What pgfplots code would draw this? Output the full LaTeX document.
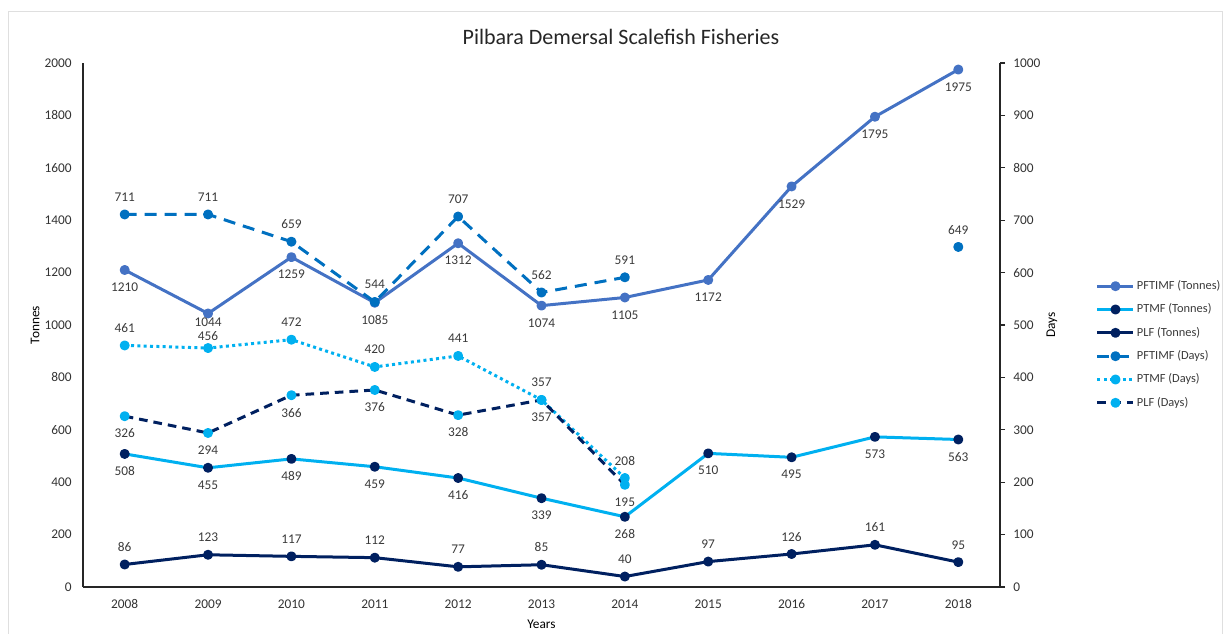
\documentclass[border=0pt]{standalone}
\usepackage{fontspec}
\setmainfont{Carlito}
\usepackage{pgfplots}
\pgfplotsset{compat=1.18}
\definecolor{cA}{HTML}{4472C4}
\definecolor{cB}{HTML}{00B0F0}
\definecolor{cC}{HTML}{002060}
\definecolor{cD}{HTML}{0070C0}
\definecolor{txt}{HTML}{3A3A3A}
\pgfplotsset{
  /pgf/number format/.cd, 1000 sep={}, assume math mode=true, /pgfplots/.cd,
  common/.style={scale only axis, width=687.75pt, height=393pt,
    at={(62.25pt,34.5pt)}, anchor=south west,
    xmin=-0.5, xmax=10.5, clip=false,
    axis line style={-, black!85, line width=0.8pt},
    tick label style={font=\fontsize{10}{12}\selectfont, text=black!80},
    label style={font=\fontsize{10}{12}\selectfont, text=black!80},
    every node near coord/.append style={font=\fontsize{10}{12}\selectfont, text=txt, anchor=center},
  },
  labbelow/.style={nodes near coords, every node near coord/.append style={yshift=-13pt}},
  lababove/.style={nodes near coords, every node near coord/.append style={yshift=13pt}},
  labvar/.style={nodes near coords, visualization depends on={value \thisrow{s}\as\lshift},
    every node near coord/.append style={yshift=\lshift pt}},
  ser/.style={line width=2.25pt, line join=round, mark=*, mark size=2.6pt},
}
\begin{document}
\begin{tikzpicture}
\useasboundingbox (0,0) rectangle (922.5pt,474.75pt);
\draw[gray!25, line width=0.75pt] (6pt,-10pt) rectangle (916.5pt,465.75pt);
\node[font=\fontsize{16.5}{19}\selectfont, text=black!85] at (465.75pt,447pt) {Pilbara Demersal Scalefish Fisheries};

\begin{axis}[common,
  axis x line*=bottom, axis y line*=left,
  ymin=0, ymax=2000, ytick={0,200,...,2000},
  xtick={0,...,10}, xticklabels={2008,2009,2010,2011,2012,2013,2014,2015,2016,2017,2018},
  major tick length=0pt,
  xticklabel style={yshift=-6pt}, yticklabel style={xshift=-5pt},
  xlabel={Years}, ylabel={Tonnes},
  every axis x label/.style={at={(axis description cs:0.5,-0.0706)}, anchor=center},
  every axis y label/.style={at={(axis description cs:-0.0523,0.5)}, anchor=center, rotate=90},
]
% PFTIMF (Tonnes)
\addplot[ser, cA, mark options={solid, fill=cA, draw=cA}, labvar] table[x=x, y=y] {
x y s
0 1210 -13
1 1044 -6.5
2 1259 -13
3 1085 -13
4 1312 -13
5 1074 -13
6 1105 -13
7 1172 -13
8 1529 -13
9 1795 -13
10 1975 -13
};
% PTMF (Tonnes)
\addplot[ser, cB, mark options={solid, fill=cC, draw=cC}, labbelow] coordinates {
(0,508) (1,455) (2,489) (3,459) (4,416) (5,339) (6,268) (7,510) (8,495) (9,573) (10,563)};
% PLF (Tonnes)
\addplot[ser, cC, mark options={solid, fill=cC, draw=cC}, lababove] coordinates {
(0,86) (1,123) (2,117) (3,112) (4,77) (5,85) (6,40) (7,97) (8,126) (9,161) (10,95)};
\end{axis}

\begin{axis}[common,
  axis x line=none, axis y line*=right,
  ymin=0, ymax=1000, ytick={0,100,...,1000},
  tick align=outside, major tick length=3.75pt,
  ytick style={black!85, line width=0.8pt},
  yticklabel style={xshift=2.7pt},
  ylabel={Days},
  every axis y label/.style={at={(axis description cs:1.0567,0.5)}, anchor=center, rotate=90},
  legend image code/.code={\draw[mark repeat=2,mark phase=2] plot coordinates {(0pt,0pt)(13.5pt,0pt)(27pt,0pt)};},
  legend style={at={(axis description cs:1.1,0.4628)}, anchor=west, draw=none, fill=none,
    font=\fontsize{9.3}{11}\selectfont, text=txt, row sep=8.5pt, column sep=1.5pt,
    nodes={inner sep=0pt, text height=7pt, text depth=2pt}},
  legend cell align=left,
]
\addlegendimage{ser, cA, mark options={solid, fill=cA, draw=cA}}
\addlegendentry{PFTIMF (Tonnes)}
\addlegendimage{ser, cB, mark options={solid, fill=cC, draw=cC}}
\addlegendentry{PTMF (Tonnes)}
\addlegendimage{ser, cC, mark options={solid, fill=cC, draw=cC}}
\addlegendentry{PLF (Tonnes)}
% PFTIMF (Days)
\addplot[ser, cD, dash pattern=on 9pt off 6pt, mark options={solid, fill=cD, draw=cD}, lababove] coordinates {
(0,711) (1,711) (2,659) (3,544) (4,707) (5,562) (6,591)};
\addlegendentry{PFTIMF (Days)}
\addplot[ser, cD, only marks, mark options={solid, fill=cD, draw=cD}, lababove, forget plot] coordinates {(10,649)};
% PTMF (Days)
\addplot[ser, cB, dash pattern=on 2.25pt off 2.5pt, mark options={solid, fill=cB, draw=cB}, labvar] table[x=x, y=y] {
x y s
0 461 13
1 456 9
2 472 13
3 420 13
4 441 13
5 357 13
6 208 13
};
\addlegendentry{PTMF (Days)}
% PLF (Days)
\addplot[ser, cC, dash pattern=on 6.5pt off 4.5pt, mark options={solid, fill=cB, draw=cB}, labbelow] coordinates {
(0,326) (1,294) (2,366) (3,376) (4,328) (5,357) (6,195)};
\addlegendentry{PLF (Days)}
\end{axis}
\end{tikzpicture}
\end{document}
